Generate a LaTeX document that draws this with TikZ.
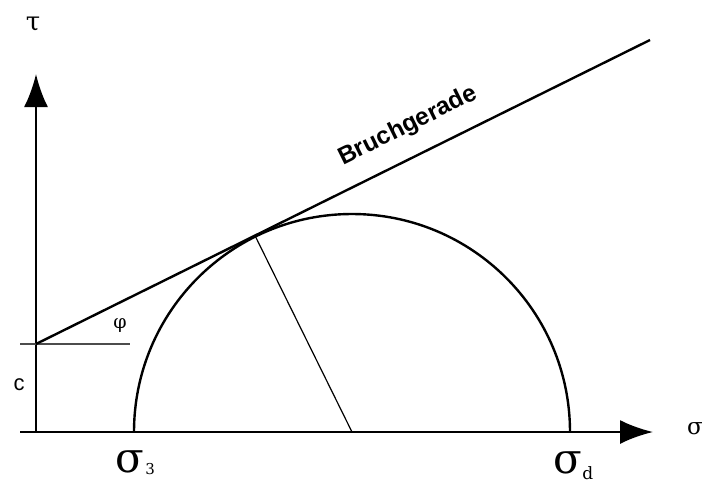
\documentclass[tikz,border=0pt]{standalone}
\usepackage{fontspec}
\setmainfont{DejaVu Serif}
\newfontfamily\labsans{Liberation Sans}
\usetikzlibrary{arrows.meta}
\begin{document}
\begin{tikzpicture}[x=1pt,y=-1pt,
  axis/.style={line width=2.4pt,-{Latex[length=33pt,width=24pt]}},
  thick line/.style={line width=2.4pt},
  thin line/.style={line width=1.2pt},
  lab/.style={inner sep=0pt,anchor=center},
  big sigma/.style={inner sep=0pt,anchor=base west,font=\fontsize{42}{42}\selectfont},
  sub/.style={inner sep=0pt,anchor=base west}]
\useasboundingbox (0,0) rectangle (702,483);
\coordinate (O) at (36,432);
\coordinate (xs) at (20,432);
\coordinate (xe) at (653,432);
\coordinate (ye) at (36,74);
\coordinate (C) at (352,432);
\coordinate (L) at (134,432);
\coordinate (P0) at (36,344);
\coordinate (P1) at (650,40);
\coordinate (T) at (255,235.6);
\coordinate (ph1) at (20,344);
\coordinate (ph2) at (130,344);
% axes
\draw[axis] (xs) -- (xe);
\draw[axis] (O) -- (ye);
% phi reference
\draw[line width=1.5pt,black!70] (ph1) -- (ph2);
% circle
\draw[thick line] (L) arc[start angle=180,end angle=360,radius=218];
% failure line
\draw[thick line] (P0) -- (P1);
% radius
\draw[thin line] (C) -- (T);
% labels
\node[lab] (tau) at (33,24) {\fontsize{26}{26}\selectfont τ};
\node[lab] (sig) at (695,429) {\fontsize{23}{23}\selectfont σ};
\node[lab] (c) at (19,385) {\labsans\fontsize{22}{22}\selectfont c};
\node[lab] (phi) at (120,326) {\fontsize{19}{19}\selectfont φ};
\node[big sigma] (s3) at (115,472) {σ};
\node[sub,font=\fontsize{15}{15}\selectfont] (s3i) at ([yshift=-2pt]s3.base east) {\kern1pt 3};
\node[big sigma] (sd) at (553,473) {σ};
\node[sub,font=\fontsize{17}{17}\selectfont] (sdi) at ([yshift=-6pt]sd.base east) {d};
\node[lab,rotate=26.3] (bg) at (408,126) {\labsans\bfseries\fontsize{24.5}{24.5}\selectfont Bruchgerade};
\end{tikzpicture}
\end{document}
